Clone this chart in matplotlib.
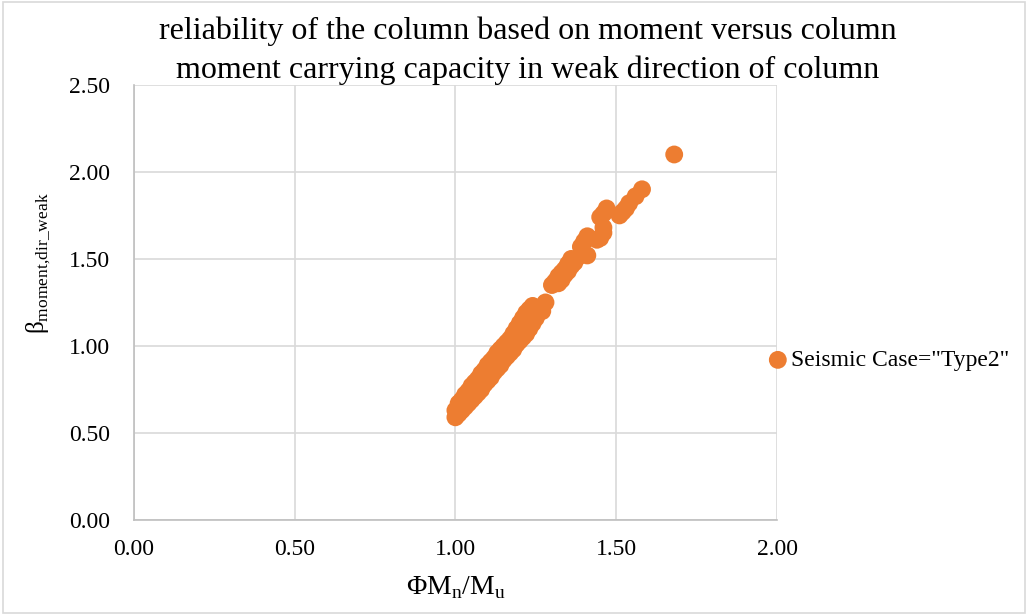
import matplotlib
matplotlib.use("Agg")
import matplotlib.pyplot as plt
from matplotlib.patches import Rectangle

plt.rcParams['font.family'] = ['Liberation Serif', 'DejaVu Serif']
plt.rcParams['mathtext.fontset'] = 'custom'
plt.rcParams['mathtext.rm'] = 'Liberation Serif'

# phi*Mn/Mu  vs  beta
ratio = [1.00, 1.00, 1.01, 1.01, 1.02, 1.02, 1.03, 1.03, 1.04, 1.04,
         1.05, 1.05, 1.06, 1.06, 1.07, 1.07, 1.08, 1.08, 1.09, 1.09,
         1.10, 1.10, 1.11, 1.11, 1.12, 1.12, 1.13, 1.13, 1.14, 1.14,
         1.15, 1.15, 1.16, 1.16, 1.17, 1.17, 1.18, 1.18, 1.19, 1.19,
         1.20, 1.20, 1.21, 1.21, 1.22, 1.22, 1.23, 1.23, 1.24, 1.24,
         1.25, 1.27, 1.28,
         1.30, 1.31, 1.32, 1.32, 1.33, 1.33, 1.34, 1.34, 1.35, 1.35,
         1.36, 1.36, 1.37,
         1.39, 1.39, 1.40, 1.41, 1.41, 1.44, 1.45, 1.46, 1.46, 1.45,
         1.46, 1.47, 1.51, 1.52, 1.53, 1.54, 1.56, 1.58, 1.68]
beta = [0.59, 0.63, 0.61, 0.67, 0.63, 0.69, 0.65, 0.72, 0.67, 0.74,
        0.69, 0.77, 0.71, 0.79, 0.73, 0.81, 0.75, 0.84, 0.78, 0.86,
        0.80, 0.89, 0.82, 0.91, 0.85, 0.93, 0.87, 0.96, 0.89, 0.98,
        0.92, 1.00, 0.94, 1.02, 0.96, 1.04, 0.98, 1.07, 1.01, 1.10,
        1.03, 1.13, 1.05, 1.16, 1.07, 1.19, 1.10, 1.21, 1.13, 1.23,
        1.16, 1.20, 1.25,
        1.35, 1.37, 1.36, 1.40, 1.38, 1.42, 1.41, 1.44, 1.43, 1.47,
        1.46, 1.50, 1.48,
        1.52, 1.57, 1.60, 1.63, 1.52, 1.61, 1.62, 1.65, 1.68, 1.74,
        1.76, 1.79, 1.75, 1.77, 1.79, 1.82, 1.86, 1.90, 2.10]

series_name = 'Seismic Case="Type2"'
xticks = [0.0, 0.5, 1.0, 1.5, 2.0]
yticks = [0.0, 0.5, 1.0, 1.5, 2.0, 2.5]

fig = plt.figure(figsize=(10.28, 6.15), dpi=100)
ax = fig.add_axes([0.130, 0.1545, 0.626, 0.7075])

ax.scatter(ratio, beta, s=165, color='#ED7D31', edgecolors='none',
           label=series_name, zorder=3, clip_on=False)

ax.set_xlim(0, 2.0)
ax.set_ylim(0, 2.5)
ax.set_xticks(xticks)
ax.set_yticks(yticks)
ax.set_xticklabels(['%.2f' % v for v in xticks])
ax.set_yticklabels(['%.2f' % v for v in yticks])
ax.tick_params(length=0, labelsize=17)
ax.tick_params(axis='x', pad=14)
ax.tick_params(axis='y', pad=17)

ax.grid(True, color='#d9d9d9', linewidth=1.2)
ax.set_axisbelow(True)
for side in ['top', 'right']:
    ax.spines[side].set_visible(False)
for side in ['left', 'bottom']:
    ax.spines[side].set_color('#bfbfbf')
    ax.spines[side].set_linewidth(1.2)

ax.set_xlabel('ΦM$_{\\mathregular{n}}$/M$_{\\mathregular{u}}$', fontsize=20, labelpad=10)
ax.set_ylabel('β$_{\\mathregular{moment{,}dir\\_weak}}$', fontsize=18)
ax.yaxis.set_label_coords(-0.125, 0.59)

fig.text(0.513, 0.918,
         'reliability of the column based on moment versus column\n'
         'moment carrying capacity in weak direction of column',
         ha='center', va='center', fontsize=23, linespacing=1.42)

ax.legend(loc='center left', bbox_to_anchor=(0.99, 0.367), frameon=False,
          fontsize=17, handletextpad=0.25, handlelength=0.6, borderpad=0,
          borderaxespad=0)

fig.patches.append(Rectangle((0.003, 0.003), 0.994, 0.994, transform=fig.transFigure,
                             fill=False, edgecolor='#d9d9d9', linewidth=1.2))

fig.savefig('out.png', dpi=100)
